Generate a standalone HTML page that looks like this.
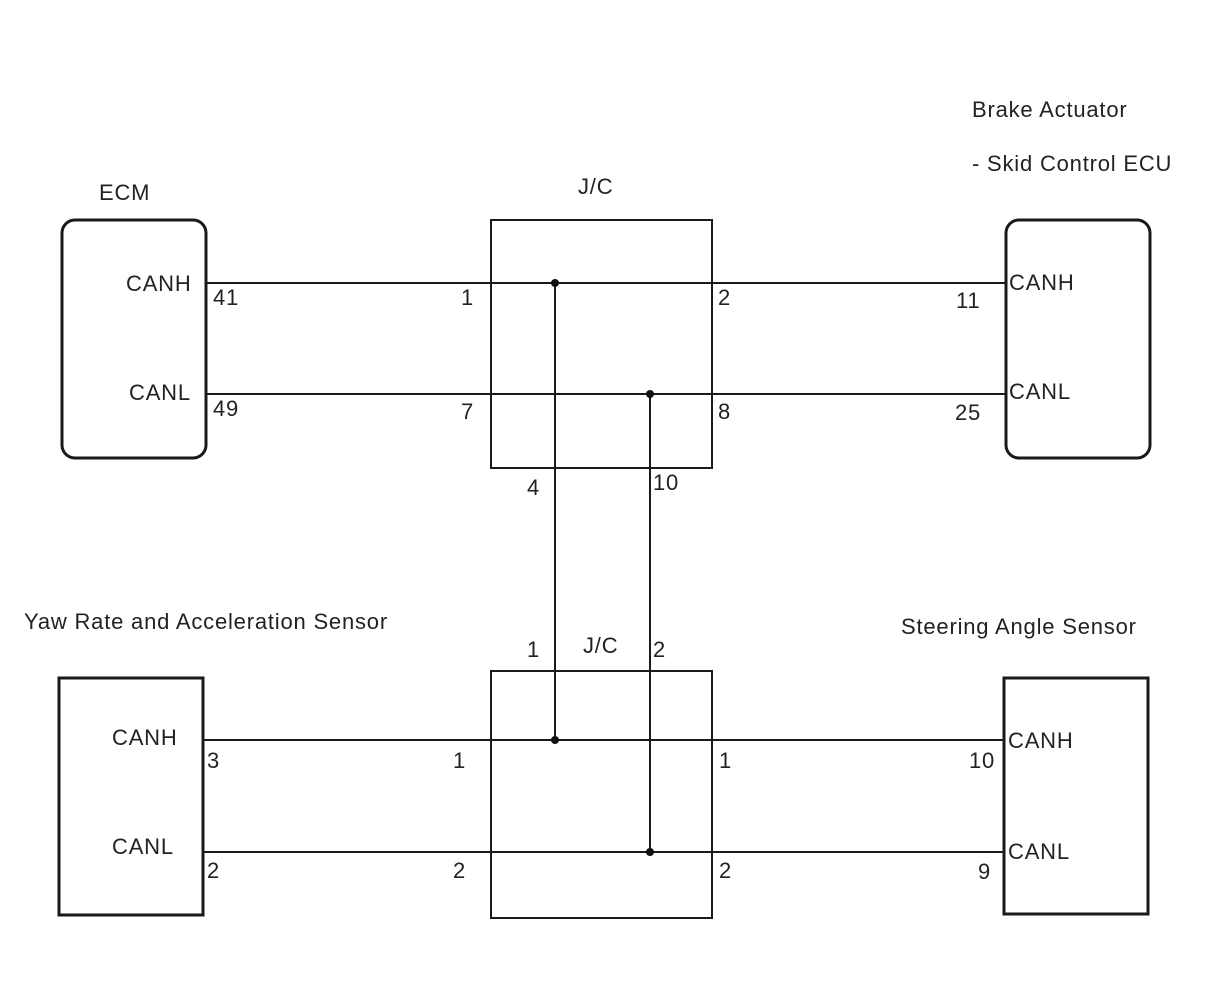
<!DOCTYPE html>
<html><head><style>
html,body{margin:0;padding:0;background:#fff;}
svg{display:block;}
text{font-family:"Liberation Sans",Arial,sans-serif;font-size:22px;letter-spacing:0.8px;fill:#222;}
</style></head><body>
<svg width="1210" height="986" viewBox="0 0 1210 986" xmlns="http://www.w3.org/2000/svg">
<g fill="none" stroke="#1a1a1a">
<rect x="62" y="220" width="144" height="238" rx="13" stroke-width="3"/>
<rect x="1006" y="220" width="144" height="238" rx="13" stroke-width="3"/>
<rect x="491" y="220" width="221" height="248" stroke-width="2"/>
<rect x="491" y="671" width="221" height="247" stroke-width="2"/>
<rect x="59" y="678" width="144" height="237" stroke-width="3"/>
<rect x="1004" y="678" width="144" height="236" stroke-width="3"/>
<g stroke-width="2">
<line x1="206" y1="283" x2="1006" y2="283"/>
<line x1="206" y1="394" x2="1006" y2="394"/>
<line x1="203" y1="740" x2="1004" y2="740"/>
<line x1="203" y1="852" x2="1004" y2="852"/>
<line x1="555" y1="283" x2="555" y2="740"/>
<line x1="650" y1="394" x2="650" y2="852"/>
</g>
</g>
<g fill="#111">
<circle cx="555" cy="283" r="4"/><circle cx="650" cy="394" r="4"/>
<circle cx="555" cy="740" r="4"/><circle cx="650" cy="852" r="4"/>
</g>
<text x="99" y="200">ECM</text>
<text x="578" y="194">J/C</text>
<text x="972" y="117">Brake Actuator</text>
<text x="972" y="171">- Skid Control ECU</text>
<text x="126" y="291">CANH</text>
<text x="129" y="400">CANL</text>
<text x="213" y="305">41</text>
<text x="213" y="416">49</text>
<text x="461" y="305">1</text>
<text x="461" y="419">7</text>
<text x="718" y="305">2</text>
<text x="718" y="419">8</text>
<text x="956" y="308">11</text>
<text x="955" y="420">25</text>
<text x="1009" y="290">CANH</text>
<text x="1009" y="399">CANL</text>
<text x="527" y="495">4</text>
<text x="653" y="490">10</text>
<text x="24" y="629">Yaw Rate and Acceleration Sensor</text>
<text x="901" y="634">Steering Angle Sensor</text>
<text x="527" y="657">1</text>
<text x="583" y="653">J/C</text>
<text x="653" y="657">2</text>
<text x="112" y="745">CANH</text>
<text x="112" y="854">CANL</text>
<text x="207" y="768">3</text>
<text x="207" y="878">2</text>
<text x="453" y="768">1</text>
<text x="453" y="878">2</text>
<text x="719" y="768">1</text>
<text x="719" y="878">2</text>
<text x="969" y="768">10</text>
<text x="978" y="879">9</text>
<text x="1008" y="748">CANH</text>
<text x="1008" y="859">CANL</text>
</svg>
</body></html>
